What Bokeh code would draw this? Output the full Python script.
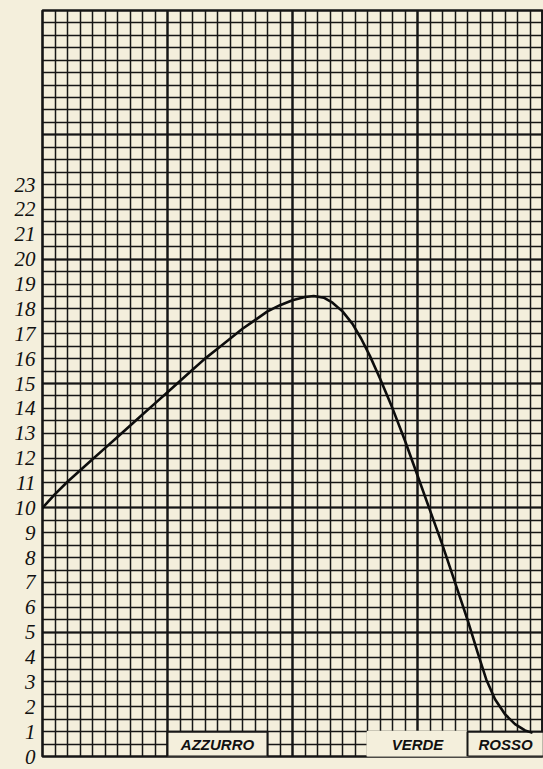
from bokeh.plotting import figure
from bokeh.models import FixedTicker, Grid, Range1d, ColumnDataSource
from bokeh.core.properties import value
from bokeh.embed import file_html
from bokeh.resources import INLINE

# ---- data ----
y_ticks = list(range(0, 24))
y_tick_labels = [str(v) for v in y_ticks]

# curve (x in grid cells, y in chart units)
curve_x = [0, 1, 2, 3, 4, 5, 6, 7, 8, 9, 10, 11, 12, 13, 14, 15, 16, 17, 18, 19, 20, 21,
           21.7, 22.5, 23.2, 24.0, 24.8, 25.5, 26.2, 27.0, 28.0, 29.0, 30.0, 31.0, 32.0,
           33.0, 34.0, 34.8, 35.5, 36.2, 37.0, 37.8, 38.6, 39.2]
curve_y = [10.0, 10.55, 11.05, 11.5, 11.95, 12.4, 12.85, 13.3, 13.75, 14.2, 14.65, 15.1,
           15.55, 16.0, 16.4, 16.8, 17.2, 17.55, 17.9, 18.15, 18.35, 18.48,
           18.52, 18.45, 18.25, 17.9, 17.4, 16.8, 16.1, 15.2, 14.0, 12.7, 11.3, 9.9, 8.5,
           7.0, 5.5, 4.2, 3.1, 2.3, 1.7, 1.3, 1.05, 0.95]

band_names = ["AZZURRO", "VERDE", "ROSSO"]
band_left = [10, 26, 34]
band_right = [18, 34, 40.1]
band_bottom = [0, 0, 0]
band_top = [1, 1, 1]
band_border = [True, False, True]

BG = "#f4efdc"
INK = "#161616"

X_MAX = 40.08
Y_MAX = 30

p = figure(width=543, height=769, output_backend="svg", toolbar_location=None,
           x_range=Range1d(0, X_MAX), y_range=Range1d(0, Y_MAX),
           min_border_left=42, min_border_right=0, min_border_top=10, min_border_bottom=13)
p.background_fill_color = BG
p.border_fill_color = BG
p.outline_line_color = INK
p.outline_line_width = 2.6

p.xaxis.visible = False
p.yaxis.ticker = FixedTicker(ticks=y_ticks)
p.yaxis.major_label_overrides = {t: l for t, l in zip(y_ticks, y_tick_labels)}
p.yaxis.axis_line_color = None
p.yaxis.major_tick_line_color = None
p.yaxis.minor_tick_line_color = None
p.yaxis.major_label_text_font = "Liberation Serif"
p.yaxis.major_label_text_font_style = "italic"
p.yaxis.major_label_text_font_size = "21px"
p.yaxis.major_label_text_color = "#111111"
p.yaxis.major_label_standoff = 1

# fine grid (one cell = 1 x unit, 0.5 y unit)
p.xgrid.ticker = FixedTicker(ticks=list(range(0, 41)))
p.ygrid.ticker = FixedTicker(ticks=[i * 0.5 for i in range(0, 61)])
for g in (p.xgrid, p.ygrid):
    g.grid_line_color = INK
    g.grid_line_width = 1.5

# slightly heavier lines every 10 cells
p.add_layout(Grid(dimension=0, ticker=FixedTicker(ticks=[0, 10, 20, 30, 40]),
                  grid_line_color=INK, grid_line_width=2.3))
p.add_layout(Grid(dimension=1, ticker=FixedTicker(ticks=[0, 5, 10, 15, 20, 25, 30]),
                  grid_line_color=INK, grid_line_width=2.1))

# label boxes at the bottom
src = ColumnDataSource(dict(left=band_left, right=band_right, bottom=band_bottom, top=band_top,
                            name=band_names,
                            lc=[INK if b else BG for b in band_border],
                            cx=[(a + b) / 2 for a, b in zip(band_left, band_right)],
                            cy=[(a + b) / 2 for a, b in zip(band_bottom, band_top)]))
p.quad(left="left", right="right", bottom="bottom", top="top", source=src,
       fill_color=BG, line_color="lc", line_width=2)
p.text(x="cx", y="cy", text="name", source=src, text_align="center", text_baseline="middle",
       text_font=value("Liberation Sans"), text_font_style="bold italic",
       text_font_size="15px", text_color="#111111")

# the curve
p.line(curve_x, curve_y, line_color="#0d0d0d", line_width=2.6, line_join="round")

html = file_html(p, INLINE)
html = html.replace("</head>", "<style>html,body{background-color:#f4efdc;}</style></head>", 1)
open("out.html", "w").write(html)
